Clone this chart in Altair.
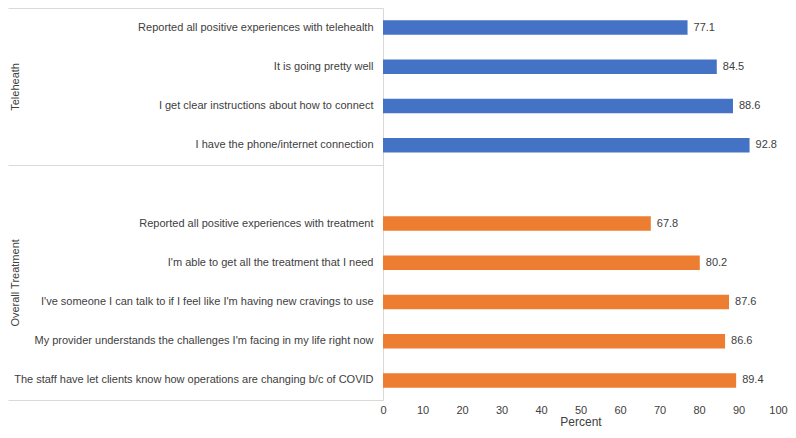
import altair as alt
import pandas as pd

# ---- data ----
tele_labels = [
    "Reported all positive experiences with telehealth",
    "It is going pretty well",
    "I get clear instructions about how to connect",
    "I have the phone/internet connection",
]
tele_values = [77.1, 84.5, 88.6, 92.8]

over_labels = [
    "Reported all positive experiences with treatment",
    "I'm able to get all the treatment that I need",
    "I've someone I can talk to if I feel like I'm having new cravings to use",
    "My provider understands the challenges I'm facing in my life right now",
    "The staff have let clients know how operations are changing b/c of COVID",
]
over_values = [67.8, 80.2, 87.6, 86.6, 89.4]

groups = ["Teleheath", "Overall Treatment"]
group_colors = ["#4472C4", "#ED7D31"]
x_ticks = [0, 10, 20, 30, 40, 50, 60, 70, 80, 90, 100]

# ---- tables ----
blank = ""
y_domain = tele_labels + [blank] + over_labels
bars_df = pd.DataFrame({
    "label": tele_labels + over_labels,
    "value": tele_values + over_values,
    "group": [groups[0]] * len(tele_labels) + [groups[1]] * len(over_labels),
})

n_tele = len(tele_labels)
n_all = len(y_domain)
bounds_df = pd.DataFrame({"b": [0, n_tele, n_all]})
centers_df = pd.DataFrame({"c": [n_tele / 2, (n_tele + n_all) / 2], "g": groups})

TXT = "#404040"
LINE = "#D9D9D9"
FONT = "Liberation Sans"

LEFT = 375      # room left of the plot for labels
W, H = 395, 392

y_band = alt.Scale(domain=y_domain, paddingInner=0.63, paddingOuter=0.315)
x_scale = alt.Scale(domain=[0, 100], nice=False)
x_axis = alt.Axis(values=x_ticks, tickCount=len(x_ticks), grid=False, domain=False,
                  ticks=False, tickSize=0, labelPadding=4, labelFontSize=11,
                  labelColor=TXT, labelFont=FONT, labelFlush=False,
                  labelOverlap=False,
                  title="Percent", titleFontSize=12,
                  titleFontWeight="normal", titleColor=TXT,
                  titleFont=FONT, titlePadding=1)

bars = alt.Chart(bars_df).mark_bar().encode(
    y=alt.Y("label:N", scale=y_band, sort=y_domain,
            axis=alt.Axis(title=None, ticks=False, grid=False, domainColor=LINE,
                          labelPadding=10, labelFontSize=11, labelColor=TXT,
                          labelLimit=0, labelFont=FONT)),
    x=alt.X("value:Q", scale=x_scale, axis=x_axis, title="Percent"),
    color=alt.Color("group:N", scale=alt.Scale(domain=groups, range=group_colors),
                    legend=None),
)

vals = alt.Chart(bars_df).mark_text(
    align="left", baseline="middle", dx=6, fontSize=11, color=TXT, font=FONT
).encode(
    y=alt.Y("label:N", scale=y_band, sort=y_domain, axis=None),
    x=alt.X("value:Q", scale=x_scale, axis=x_axis, title="Percent"),
    text=alt.Text("value:Q", format=".1f"),
)

slot_scale = alt.Scale(domain=[0, n_all], reverse=True, nice=False, zero=False)

dividers = alt.Chart(bounds_df).mark_point(opacity=0).encode(
    y=alt.Y("b:Q", scale=slot_scale,
            axis=alt.Axis(orient="left", values=bounds_df["b"].tolist(),
                          tickSize=LEFT, tickColor=LINE, tickWidth=1,
                          labels=False, domain=False, grid=False, title=None)),
)

label_expr = " : ".join(
    [f"datum.value == {c} ? '{g}'" for c, g in zip(centers_df["c"], centers_df["g"])]
) + " : ''"

group_labels = alt.Chart(centers_df).mark_point(opacity=0).encode(
    y=alt.Y("c:Q", scale=slot_scale,
            axis=alt.Axis(orient="left", values=centers_df["c"].tolist(),
                          labelExpr=label_expr, ticks=False, domain=False,
                          grid=False, title=None, labelAngle=270,
                          labelAlign="center", labelBaseline="middle",
                          labelPadding=LEFT - 7, labelFontSize=11, labelColor=TXT,
                          labelFont=FONT, labelLimit=0)),
)

chart = alt.layer(bars, vals, dividers, group_labels).resolve_scale(
    y="independent"
).properties(
    width=W, height=H,
    autosize=alt.AutoSizeParams(type="none"),
    padding={"left": LEFT, "top": 0, "right": 10, "bottom": 30},
).configure_view(stroke=None)

chart.save("out.html", embed_options={"renderer": "svg", "actions": False})
